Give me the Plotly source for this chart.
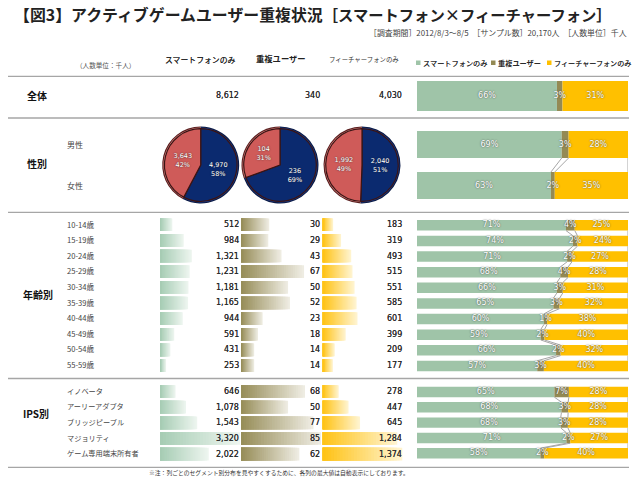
import plotly.graph_objects as go

W, H = 635, 480
JP = "Noto Sans CJK JP"
NUM = "DejaVu Sans"

title_left = "【図3】アクティブゲームユーザー重複状況"
title_right = "［スマートフォン×フィーチャーフォン］"
subtitle = "［調査期間］2012/8/3～8/5　［サンプル数］20,170人　［人数単位］千人"
note = "※注：列ごとのセグメント別分布を見やすくするために、各列の最大値は自動表示にしております。"
series_names = ["スマートフォンのみ", "重複ユーザー", "フィーチャーフォンのみ"]

overall_smart = [8612]
overall_dual = [340]
overall_feat = [4030]

gender_labels = ["男性", "女性"]
gender_smart = [4970, 3643]
gender_dual = [236, 104]
gender_feat = [2040, 1992]

age_labels = ["10-14歳", "15-19歳", "20-24歳", "25-29歳", "30-34歳", "35-39歳", "40-44歳", "45-49歳", "50-54歳", "55-59歳"]
age_smart = [512, 984, 1321, 1231, 1181, 1165, 944, 591, 431, 253]
age_dual = [30, 29, 43, 67, 50, 52, 23, 18, 14, 14]
age_feat = [183, 319, 493, 515, 551, 585, 601, 399, 209, 177]

ips_labels = ["イノベータ", "アーリーアダプタ", "ブリッジピープル", "マジョリティ", "ゲーム専用端末所有者"]
ips_smart = [646, 1078, 1543, 3320, 2022]
ips_dual = [68, 50, 77, 85, 62]
ips_feat = [278, 447, 645, 1284, 1374]

GREEN, DUAL, YELLOW = "#9FC4A8", "#948A54", "#FFC000"
NAVY, RED = "#0B2A6F", "#CF5B59"
LINE = "#A6A6A6"
TXT = "#2A2A2A"
SOFT = "0px 0px 0.6px #444444"


def px_x(a, b):
    return [a / W, b / W]


def px_y(top, bottom):
    return [1 - bottom / H, 1 - top / H]


axis_off = dict(visible=False, fixedrange=True)
layout = dict(
    width=W, height=H, margin=dict(l=0, r=0, t=0, b=0), autosize=False,
    paper_bgcolor="white", plot_bgcolor="rgba(0,0,0,0)", barmode="overlay",
    showlegend=False, hovermode=False,
    xaxis=dict(domain=px_x(160, 240), range=[0, 3320], **axis_off),
    xaxis2=dict(domain=px_x(241, 321), range=[0, 85], **axis_off),
    xaxis3=dict(domain=px_x(322.5, 402.5), range=[0, 1374], **axis_off),
    xaxis4=dict(domain=px_x(417, 628), range=[0, 100], **axis_off),
    yaxis=dict(domain=px_y(81, 111), range=[0.5, -0.5], **axis_off),
    yaxis2=dict(domain=px_y(124, 206), range=[1.5, -0.5], **axis_off),
    yaxis3=dict(domain=px_y(217.5, 373.8), range=[9.5, -0.5], **axis_off),
    yaxis4=dict(domain=px_y(384.3, 461), range=[4.5, -0.5], **axis_off),
    yaxis5=dict(domain=px_y(216.9, 373.4), range=[9.5, -0.5], **axis_off),
    yaxis6=dict(domain=px_y(383.7, 462), range=[4.5, -0.5], **axis_off),
)
fig = go.Figure()
annots = []
shapes = []


def txt(x, y, s, size, anchor="left", bold=False, font=JP, color=TXT, shadow=None):
    f = dict(family=font, size=size, color=color)
    if shadow:
        f["shadow"] = shadow
    annots.append(dict(xref="paper", yref="paper", x=x / W, y=1 - y / H, text=f"<b>{s}</b>" if bold else s,
                       showarrow=False, xanchor=anchor, yanchor="middle", borderpad=0, font=f))


def lerp(c1, c2, t):
    a = [int(c1[i:i + 2], 16) for i in (1, 3, 5)]
    b = [int(c2[i:i + 2], 16) for i in (1, 3, 5)]
    return "rgb(" + ",".join(str(round(p + (q - p) * t)) for p, q in zip(a, b)) + ")"


STEPS = 28


def value_label(xa, ya, i, v):
    right = layout["xaxis" + xa[1:]]["range"][1]
    annots.append(dict(xref=xa, yref=ya, x=right, y=i, text=f"{v:,}", showarrow=False, xanchor="right",
                       yanchor="middle", borderpad=0, font=dict(family=NUM, size=8, color=TXT, shadow=SOFT)))


def gradient_column(values, xa, ya, start, end, name):
    idx = list(range(len(values)))
    for k in range(STEPS):
        f = 1 - k / STEPS
        fig.add_bar(x=[v * f for v in values], y=idx, orientation="h", width=0.81, xaxis=xa, yaxis=ya,
                    marker=dict(color=lerp(start, end, f), line=dict(width=0)), name=name, hoverinfo="skip")
    for i, v in zip(idx, values):
        value_label(xa, ya, i, v)


def stacked(smart, dual, feat, ya, width, connect=True):
    idx = list(range(len(smart)))
    tot = [a + b + c for a, b, c in zip(smart, dual, feat)]
    s1 = [100 * a / t for a, t in zip(smart, tot)]
    s2 = [100 * b / t for b, t in zip(dual, tot)]
    s3 = [100 * c / t for c, t in zip(feat, tot)]
    e1 = s1
    e2 = [a + b for a, b in zip(s1, s2)]
    fig.add_bar(x=s1, y=idx, orientation="h", width=width, xaxis="x4", yaxis=ya, marker=dict(color=GREEN, line=dict(width=0)),
                name=series_names[0], hoverinfo="skip")
    fig.add_bar(x=s2, y=idx, base=e1, orientation="h", width=width, xaxis="x4", yaxis=ya, marker=dict(color=DUAL, line=dict(width=0)),
                name=series_names[1], hoverinfo="skip")
    fig.add_bar(x=s3, y=idx, base=e2, orientation="h", width=width, xaxis="x4", yaxis=ya, marker=dict(color=YELLOW, line=dict(width=0)),
                name=series_names[2], hoverinfo="skip")
    if connect:
        for edge in (e1, e2, [100] * len(idx)):
            xs, ys = [], []
            for i in idx[:-1]:
                xs += [edge[i], edge[i + 1], None]
                ys += [i + width / 2, i + 1 - width / 2, None]
            fig.add_scatter(x=xs, y=ys, mode="lines", xaxis="x4", yaxis=ya, cliponaxis=False,
                            line=dict(color=LINE, width=1), hoverinfo="skip")
    for share, off in ((s1, [0] * len(idx)), (s2, e1), (s3, e2)):
        fig.add_scatter(x=[o + v / 2 for o, v in zip(off, share)], y=idx, mode="text", xaxis="x4", yaxis=ya,
                        text=[f"{round(v)}%" for v in share], cliponaxis=False, hoverinfo="skip",
                        textposition="middle center",
                        textfont=dict(family=NUM, size=8, color="white", shadow="0px 0px 1.5px #333333"))


# Gradient data bars
for vals, xa, c1, c2 in ((age_smart, "x", "#A4CBB2", "#EDF5EF"), (age_dual, "x2", DUAL, "#EEECE2"), (age_feat, "x3", "#FFC10F", "#FFF4D0")):
    gradient_column(vals, xa, "y5", c1, c2, "age")
for vals, xa, c1, c2 in ((ips_smart, "x", "#A4CBB2", "#EDF5EF"), (ips_dual, "x2", DUAL, "#EEECE2"), (ips_feat, "x3", "#FFC10F", "#FFF4D0")):
    gradient_column(vals, xa, "y6", c1, c2, "ips")

# Overall values as plain numbers
for vals, xa in ((overall_smart, "x"), (overall_dual, "x2"), (overall_feat, "x3")):
    value_label(xa, "y", 0, vals[0])

# Stacked share bars
stacked(overall_smart, overall_dual, overall_feat, "y", 1.0, connect=False)
stacked(gender_smart, gender_dual, gender_feat, "y2", 0.66)
stacked(age_smart, age_dual, age_feat, "y3", 0.67)
stacked(ips_smart, ips_dual, ips_feat, "y4", 0.68)


# Pies
def pie(cx, cy, vals, r_layers=(38.5, 37.4, 36.3)):
    palette = [["#0A1A45", "#5A2020"], ["#1E3D8A", "#DE8582"], [NAVY, RED]]
    for n, (r, cols) in enumerate(zip(r_layers, palette)):
        top = n == len(r_layers) - 1
        fig.add_pie(values=vals, labels=["男性", "女性"], sort=False, direction="clockwise", rotation=0,
                    domain=dict(x=px_x(cx - r, cx + r), y=px_y(cy - r, cy + r)),
                    marker=dict(colors=cols, line=dict(color="#3A1414", width=1.2 if top else 0)),
                    textinfo="none" if not top else "text",
                    text=[f"{v:,}<br>{round(100 * v / sum(vals))}%" for v in vals] if top else None,
                    textposition="inside" if top else "none", insidetextorientation="horizontal",
                    textfont=dict(family=NUM, size=6.5, color="white", shadow="0px 0px 1.5px #222222"),
                    hoverinfo="skip", showlegend=False)


pie(200.7, 165, [gender_smart[0], gender_smart[1]])
pie(280, 165, [gender_dual[0], gender_dual[1]])
pie(362, 165, [gender_feat[0], gender_feat[1]])

# Separator lines
for y in (76.3, 118, 212.3, 378.5, 467.3):
    shapes.append(dict(type="line", xref="paper", yref="paper", x0=8 / W, x1=629 / W, y0=1 - y / H, y1=1 - y / H,
                       line=dict(color=LINE, width=1.3)))

# Legend squares
for x, c in ((416, GREEN), (491, DUAL), (547, YELLOW)):
    shapes.append(dict(type="rect", xref="paper", yref="paper", x0=x / W, x1=(x + 4.5) / W, y0=1 - 65 / H, y1=1 - 60.5 / H,
                       fillcolor=c, line=dict(width=0)))

# Texts
txt(13, 14, f'{title_left}<span style="font-size:15.3px">{title_right}</span>', 15.9, bold=True, color="#222222")
txt(628, 33, subtitle, 7.9, anchor="right", color="#444444")
txt(75, 65, "（人数単位：千人）", 6.6, color="#555555")
txt(164, 59, series_names[0], 7.85, color="#222222", shadow=SOFT)
txt(255, 58.5, series_names[1], 8.3, bold=True, color="#222222")
txt(328, 59, series_names[2], 6.4, color="#333333")
txt(422, 63, series_names[0], 7.2, shadow=SOFT)
txt(497, 63, series_names[1], 7.2, bold=True)
txt(553, 63, series_names[2], 7.1, shadow=SOFT)
txt(26, 95.5, "全体", 10, bold=True, color="#111111")
txt(26, 163.5, "性別", 10, bold=True, color="#111111")
txt(22, 294, "年齢別", 10, bold=True, color="#111111")
txt(22, 413, "IPS別", 10, bold=True, color="#111111")
for s, y in zip(gender_labels, (144, 186)):
    txt(66, y, s, 8, color="#444444")
for i, s in enumerate(age_labels):
    txt(66, 224 + i * 15.6, s, 7.6, color="#444444")
for i, s in enumerate(ips_labels):
    txt(66, 390.5 + i * 15.7, s, 7.2, color="#444444")
txt(148, 472.5, note, 5.8, color="#333333")

layout["annotations"] = annots
layout["shapes"] = shapes
fig.update_layout(**layout)
fig.write_html("out.html", config=dict(displayModeBar=False),
               post_script="document.body.style.margin='0';document.documentElement.style.margin='0';")
